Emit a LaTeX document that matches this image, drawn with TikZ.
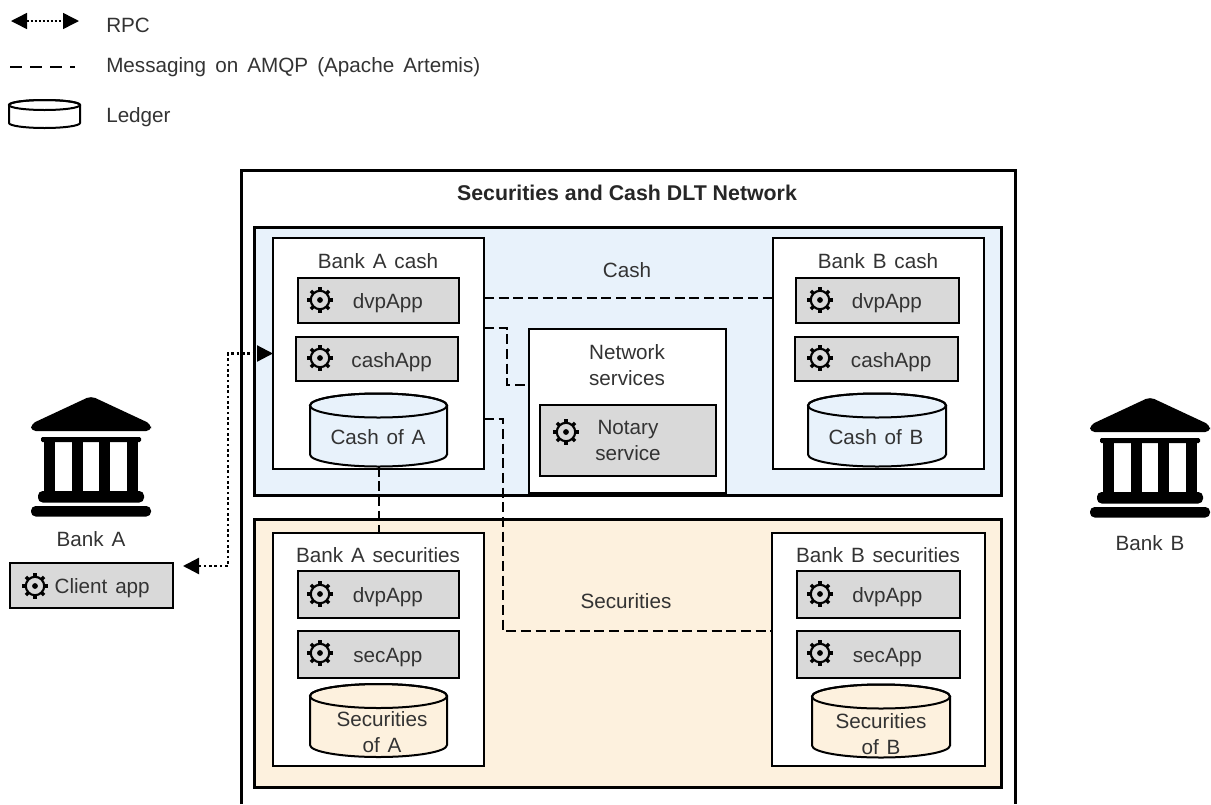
\documentclass[tikz,border=0pt]{standalone}
\usepackage{fontspec}
\setmainfont{Liberation Sans}
\usetikzlibrary{arrows.meta,positioning}
\definecolor{cashblue}{HTML}{E8F2FB}
\definecolor{secsand}{HTML}{FDF1DE}
\definecolor{appgrey}{HTML}{D9D9D9}
\definecolor{inkgrey}{HTML}{333333}
\tikzset{
sized/.style 2 args={minimum width=#1*0.75pt,minimum height=#2*0.75pt},
lbl/.style={font={\fontsize{15.5}{19}\selectfont\spaceskip.38em\relax},text=inkgrey,align=center,inner sep=0pt},
legendlbl/.style={lbl,anchor=west,font={\fontsize{15.5}{19}\selectfont\spaceskip.44em\relax}},
region/.style={draw,line width=2.25pt,inner sep=0pt,outer sep=0pt},
bankbox/.style={draw,fill=white,line width=1.5pt,inner sep=0pt,outer sep=0pt},
appframe/.style={lbl,draw=black,fill=appgrey,line width=1.5pt,outer sep=0pt},
appbox/.style={appframe,text height=12.3pt,text depth=0pt},
msg/.style={draw,dash pattern=on 7.5pt off 3.5pt,line width=1.5pt},
legendmsg/.style={draw,dash pattern=on 9pt off 6pt,line width=1.5pt},
rpc/.style={draw,line width=1.7pt,dash pattern=on 2pt off 2pt,{Triangle[length=12pt,width=12pt,sep=0pt]}-{Triangle[length=12pt,width=12pt,sep=0pt]}},
legendrpc/.style={rpc,line width=1.1pt,dash pattern=on 1.5pt off 1.5pt},
gear/.pic={
\foreach \a in {0,45,...,315} \draw[line width=2.6pt] (\a:9.5) -- (\a:12.8);
\draw[line width=1.6pt] (0,0) circle (9.2);
\fill (0,0) circle (2.9);
},
bank/.pic={
\fill[rounded corners=3.5pt] (0,0) -- (60,28) -- (60,35) -- (-60,35) -- (-60,28) -- cycle;
\fill[rounded corners=1pt] (-50,41) rectangle (50,46);
\fill (-47,41) rectangle (-36,96);
\fill (-19,41) rectangle (-8,96);
\fill (8,41) rectangle (19,96);
\fill (36,41) rectangle (47,96);
\fill[rounded corners=3.5pt] (-53,95) rectangle (53,106.5);
\fill[rounded corners=3.5pt] (-60,110) rectangle (60,120.5);
},
pics/drum/.style n args={4}{code={
\draw[fill=#4,line width=1.5pt] (-#1/2,-#2/2+#3) -- (-#1/2,#2/2-#3) arc[start angle=180,end angle=0,x radius=#1/2,y radius=#3] -- (#1/2,-#2/2+#3) arc[start angle=0,end angle=-180,x radius=#1/2,y radius=#3] -- cycle;
\draw[line width=1.5pt] (0,-#2/2+#3) ellipse [x radius=#1/2,y radius=#3];
\coordinate (-south) at (0,#2/2);
}}
}
\begin{document}
\begin{tikzpicture}[x=0.75pt,y=-0.75pt]
\useasboundingbox (0,0) rectangle (1211,804);

\coordinate (rpcleft) at (11,21);
\coordinate (rpcright) at (79,21);
\coordinate (msgleft) at (10,67);
\coordinate (msgright) at (75,67);
\draw[legendrpc] (rpcleft) -- (rpcright);
\draw[legendmsg] (msgleft) -- (msgright);
\pic (legendledger) at (44.5,114) {drum={71}{28}{5}{white}};
\node[legendlbl] (legendrpclbl) at (106,25) {RPC};
\node[legendlbl] (legendmsglbl) at (106,67) {Messaging on AMQP (Apache Artemis)};
\node[legendlbl] (legendledlbl) at (106,117) {Ledger};

\pic at (91,396) {bank};
\pic at (1150,397) {bank};
\node[lbl] (bankA) at (91,539) {Bank A};
\node[lbl] (bankB) at (1150,543) {Bank B};
\node[appbox,sized={163}{45}] (client) at (91.5,585.5) {\hspace*{16pt}Client app};
\pic at (35,586) {gear};

\draw[line width=2.25pt] (241,804) -- (241,170) -- (1015,170) -- (1015,804);
\node[lbl,font=\fontsize{16}{19}\selectfont\bfseries,text=black!85] (network) at (627,193) {Securities and Cash DLT Network};

\node[region,fill=cashblue,sized={747}{268}] (cash) at (627.5,361) {};
\node[region,fill=secsand,sized={747}{268}] (sec) at (627.5,653) {};
\node[lbl] (cashlbl) at (627,270) {Cash};
\node[lbl] (seclbl) at (626,601) {Securities};

\node[bankbox,sized={211}{231}] (cashA) at (378.5,353.5) {};
\node[bankbox,sized={211}{231}] (cashB) at (878.5,353.5) {};
\node[bankbox,sized={211}{233}] (secA) at (378.5,649) {};
\node[bankbox,sized={213}{233}] (secB) at (878,649) {};
\node[bankbox,sized={197}{164}] (net) at (627.5,411) {};

\node[lbl] (cashAlbl) at (378,261) {Bank A cash};
\node[lbl] (cashBlbl) at (878,261) {Bank B cash};
\node[lbl] (secAlbl) at (378,555) {Bank A securities};
\node[lbl] (secBlbl) at (878,555) {Bank B securities};
\node[lbl] (netlbl) at (627,365) {Network\\services};

\node[appbox,sized={161}{45}] (dvpcashA) at (378.5,300.5) {\hspace*{14pt}dvpApp};
\node[appbox,sized={162}{44}] (appcashA) at (377,359) {\hspace*{22pt}cashApp};
\node[appbox,sized={163}{45}] (dvpcashB) at (877.5,300.5) {\hspace*{14pt}dvpApp};
\node[appbox,sized={163}{44}] (appcashB) at (876.5,359) {\hspace*{22pt}cashApp};
\node[appbox,sized={161}{47}] (dvpsecA) at (378.5,594.5) {\hspace*{14pt}dvpApp};
\node[appbox,sized={161}{47}] (appsecA) at (378.5,654.5) {\hspace*{14pt}secApp};
\node[appbox,sized={163}{47}] (dvpsecB) at (878,594.5) {\hspace*{14pt}dvpApp};
\node[appbox,sized={163}{47}] (appsecB) at (878,654.5) {\hspace*{14pt}secApp};
\node[appframe,sized={176}{71}] (notary) at (628,440.5) {Notary\\service};

\pic at (320,300) {gear};
\pic at (320,358) {gear};
\pic at (820,300) {gear};
\pic at (820,358) {gear};
\pic at (320,594) {gear};
\pic at (320,653) {gear};
\pic at (820,594) {gear};
\pic at (820,653) {gear};
\pic at (566,432) {gear};

\pic (ledgercashA) at (378.5,430) {drum={137}{73}{12}{cashblue}};
\pic (ledgercashB) at (877,430) {drum={138}{73}{12}{cashblue}};
\pic (ledgersecA) at (378.5,720.5) {drum={137}{73}{12}{secsand}};
\pic (ledgersecB) at (881,721) {drum={138}{73}{12}{secsand}};
\node[lbl] (ledgercashAlbl) at (378,437) {Cash of A};
\node[lbl] (ledgercashBlbl) at (876,437) {Cash of B};
\node[lbl] (ledgersecAlbl) at (382,732) {Securities\\of A};
\node[lbl] (ledgersecBlbl) at (881,734) {Securities\\of B};

\coordinate (dvpfrom) at (cashA.east |- 0,297.5);
\coordinate (dvpto) at (cashB.west |- 0,297.5);
\coordinate (notfrom) at (cashA.east |- 0,328);
\coordinate (notbend) at (507,385);
\coordinate (notto) at (net.west |- notbend);
\coordinate (secfrom) at (cashA.east |- 0,418.5);
\coordinate (secbend) at (503,631);
\coordinate (secto) at (secB.west |- secbend);
\coordinate (clientport) at (183,566);
\coordinate (rpcbend) at (228,353.5);

\draw[msg] (dvpfrom) -- (dvpto);
\draw[msg] (notfrom) -| (notbend) -- (notto);
\draw[msg] (secfrom) -| (secbend) -- (secto);
\draw[msg] (ledgercashA-south) -- (secA.north);
\draw[rpc] (clientport) -| (rpcbend) -- (cashA.west);
\end{tikzpicture}
\end{document}
